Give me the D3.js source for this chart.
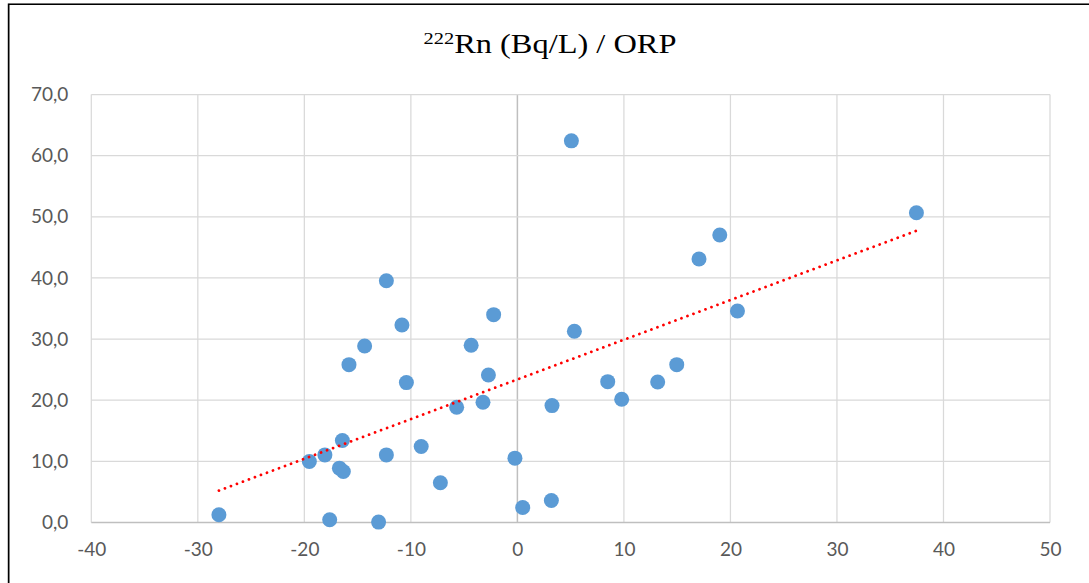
<!DOCTYPE html>
<html>
<head>
<meta charset="utf-8">
<script src="https://cdn.jsdelivr.net/npm/d3@7"></script>
<style>
  html, body { margin: 0; padding: 0; background: #fff; }
  svg { display: block; }
</style>
</head>
<body>
<svg id="chart" width="1089" height="583"></svg>
<script>
// ORP (x) values
const orp = [-28.02, -17.62, -13.03, -19.53, -18.07, -16.43, -16.71, -16.34, -15.81, -14.34,
             -12.30, -10.84, -10.42, -12.30, -9.03, -7.23, -5.70, -4.34, -3.23, -2.72,
             -2.23, -0.23, 0.50, 3.19, 3.25, 5.07, 5.35, 8.48, 9.79, 13.17,
             14.96, 17.05, 19.00, 20.66, 37.46];
// 222Rn (Bq/L) values
const radon = [1.26, 0.44, 0.07, 9.97, 11.06, 13.40, 8.89, 8.33, 25.82, 28.87,
               39.54, 32.30, 22.88, 11.06, 12.42, 6.49, 18.86, 28.99, 19.67, 24.13,
               33.99, 10.52, 2.45, 3.59, 19.12, 62.42, 31.27, 23.04, 20.16, 22.99,
               25.82, 43.09, 47.01, 34.59, 50.65];
const xTicks = [-40, -30, -20, -10, 0, 10, 20, 30, 40, 50];
const yTicks = [0, 10, 20, 30, 40, 50, 60, 70];
const titleSup = "222";
const titleMain = "Rn (Bq/L) / ORP";

const svg = d3.select("#chart");
const x = d3.scaleLinear().domain([-40, 50]).range([91.3, 1050]);
const y = d3.scaleLinear().domain([0, 70]).range([522.5, 94.5]);
const fmtY = v => d3.format(".1f")(v).replace(".", ",");

// outer frame
svg.append("rect").attr("x", 7.5).attr("y", 4).attr("width", 1200).attr("height", 700)
  .attr("fill", "none").attr("stroke", "#c8c8c8").attr("stroke-width", 1);
svg.append("rect").attr("x", 8.75).attr("y", 4.25).attr("width", 1200).attr("height", 700)
  .attr("fill", "none").attr("stroke", "#000").attr("stroke-width", 1.5);

// gridlines
const grid = svg.append("g");
grid.selectAll(".gx").data(xTicks).join("line")
  .attr("x1", d => x(d)).attr("x2", d => x(d))
  .attr("y1", y(70)).attr("y2", y(0))
  .attr("stroke", d => d === 0 ? "#bfbfbf" : "#d9d9d9")
  .attr("stroke-width", d => d === 0 ? 1.5 : 1.25);
grid.selectAll(".gy").data(yTicks).join("line")
  .attr("x1", x(-40)).attr("x2", x(50))
  .attr("y1", d => y(d)).attr("y2", d => y(d))
  .attr("stroke", d => d === 0 ? "#bfbfbf" : "#d9d9d9")
  .attr("stroke-width", d => d === 0 ? 1.5 : 1.25);

// axes (labels only) via d3 axes
const axisFont = "Lato, 'Open Sans', sans-serif";
const yAxis = svg.append("g").attr("transform", `translate(${x(-40)},0)`)
  .call(d3.axisLeft(y).tickValues(yTicks).tickFormat(fmtY).tickSize(0).tickPadding(23));
const xAxis = svg.append("g").attr("transform", `translate(0,${y(0)})`)
  .call(d3.axisBottom(x).tickValues(xTicks).tickFormat(d3.format("d")).tickSize(0).tickPadding(20));
[yAxis, xAxis].forEach(g => {
  g.select(".domain").remove();
  g.selectAll("text").attr("fill", "#595959").style("font-family", axisFont).style("font-size", "19px");
});
xAxis.selectAll("text").text(d => d < 0 ? "-" + Math.abs(d) : d);

// points
svg.append("g").selectAll("circle").data(orp.map((v, i) => [v, radon[i]])).join("circle")
  .attr("cx", d => x(d[0])).attr("cy", d => y(d[1])).attr("r", 7.5)
  .attr("fill", "#5b9bd5");

// linear trendline (least squares from the data)
const n = orp.length;
const mx = d3.mean(orp), my = d3.mean(radon);
let sxy = 0, sxx = 0;
for (let i = 0; i < n; i++) { sxy += (orp[i] - mx) * (radon[i] - my); sxx += (orp[i] - mx) ** 2; }
const slope = sxy / sxx, icpt = my - slope * mx;
const [x0, x1] = d3.extent(orp);
svg.append("line")
  .attr("x1", x(x0)).attr("y1", y(icpt + slope * x0))
  .attr("x2", x(x1)).attr("y2", y(icpt + slope * x1))
  .attr("stroke", "#ff0000").attr("stroke-width", 2.8)
  .attr("stroke-linecap", "round").attr("stroke-dasharray", "0.01 6.4");

// title
const title = svg.append("text")
  .attr("transform", "translate(550,53) scale(1.2,1)")
  .attr("text-anchor", "middle")
  .style("font-family", "'Liberation Serif', 'Times New Roman', serif")
  .style("font-size", "27px").attr("fill", "#000");
title.append("tspan").text(titleSup).style("font-size", "17px").attr("dy", "-9");
title.append("tspan").text(titleMain).attr("dy", "9");
</script>
</body>
</html>
